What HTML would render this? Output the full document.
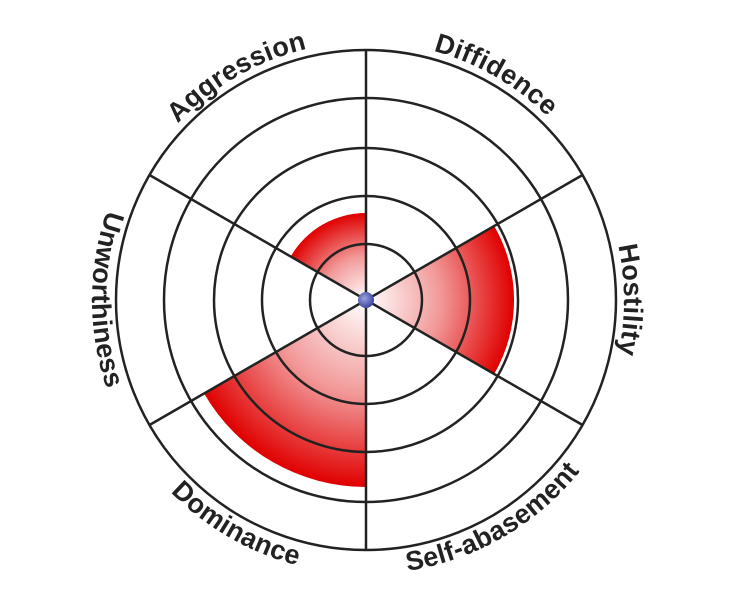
<!DOCTYPE html>
<html><head><meta charset="utf-8"><style>
html,body{margin:0;padding:0;background:#fff;}
svg{display:block}
text{font-family:"Liberation Sans",sans-serif;font-weight:bold;font-size:27px;letter-spacing:0.3px;fill:#222;}
</style></head><body>
<svg width="732" height="600" viewBox="0 0 732 600" xmlns="http://www.w3.org/2000/svg">
<defs>
<radialGradient id="gA" gradientUnits="userSpaceOnUse" cx="366" cy="300" r="87"><stop offset="0" stop-color="#fff"/><stop offset="0.5" stop-color="#f29a9a"/><stop offset="1" stop-color="#e00000"/></radialGradient>
<radialGradient id="gH" gradientUnits="userSpaceOnUse" cx="366" cy="300" r="148"><stop offset="0" stop-color="#fff"/><stop offset="0.5" stop-color="#f29a9a"/><stop offset="1" stop-color="#e00000"/></radialGradient>
<radialGradient id="gD" gradientUnits="userSpaceOnUse" cx="366" cy="300" r="187"><stop offset="0" stop-color="#fff"/><stop offset="0.5" stop-color="#f29a9a"/><stop offset="1" stop-color="#e00000"/></radialGradient>
<radialGradient id="gB" cx="0.4" cy="0.4" r="0.6"><stop offset="0" stop-color="#9aa3e0"/><stop offset="1" stop-color="#3d47a0"/></radialGradient>
<path id="cw" d="M108,300 A258,258 0 0 1 624,300 A258,258 0 0 1 108,300"/>
<path id="ccw" d="M366,26 A274,274 0 0 0 366,574 A274,274 0 0 0 366,26"/>
</defs>
<path d="M366,300 L366,213 A87,87 0 0 0 290.7,256.5 Z" fill="url(#gA)"/>
<path d="M366,300 L494.2,226 A148,148 0 0 1 494.2,374 Z" fill="url(#gH)"/>
<path d="M366,300 L204.1,393.5 A187,187 0 0 0 366,487 Z" fill="url(#gD)"/>
<g fill="none" stroke="#222" stroke-width="2.5">
<circle cx="366" cy="300" r="56"/>
<circle cx="366" cy="300" r="104"/>
<circle cx="366" cy="300" r="152"/>
<circle cx="366" cy="300" r="202"/>
<circle cx="366" cy="300" r="250"/>
<line x1="366" y1="50" x2="366" y2="550"/>
<line x1="582.5" y1="175" x2="149.5" y2="425"/>
<line x1="582.5" y1="425" x2="149.5" y2="175"/>
</g>
<circle cx="366" cy="300" r="8" fill="url(#gB)"/>
<text><textPath href="#cw" startOffset="270" text-anchor="middle">Aggression</textPath></text>
<text><textPath href="#cw" startOffset="540" text-anchor="middle">Diffidence</textPath></text>
<text><textPath href="#cw" startOffset="810" text-anchor="middle">Hostility</textPath></text>
<text><textPath href="#ccw" startOffset="430" text-anchor="middle">Unworthiness</textPath></text>
<text><textPath href="#ccw" startOffset="717" text-anchor="middle">Dominance</textPath></text>
<text><textPath href="#ccw" startOffset="1004" text-anchor="middle">Self-abasement</textPath></text>
</svg>
</body></html>
